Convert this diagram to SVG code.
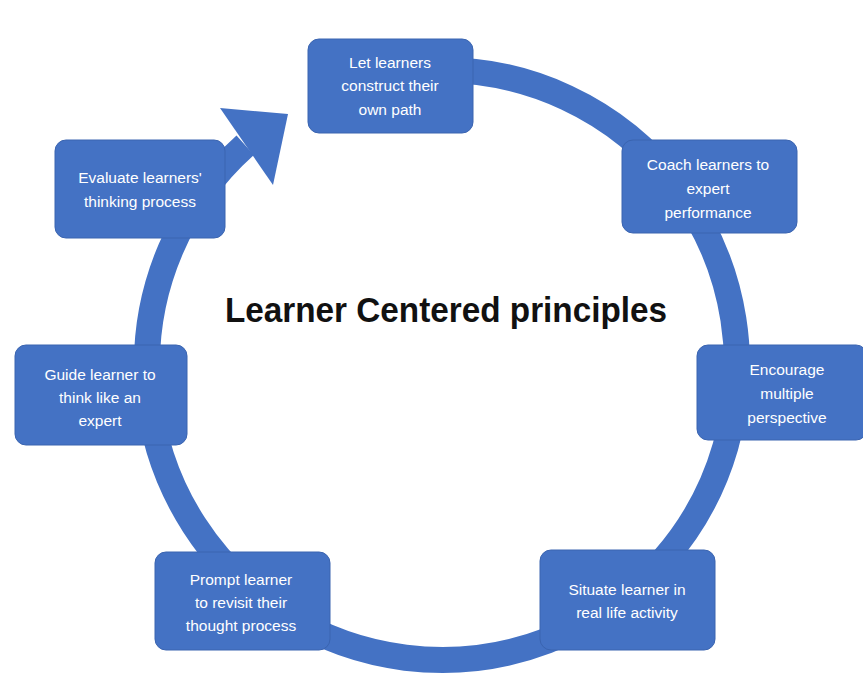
<svg xmlns="http://www.w3.org/2000/svg" width="863" height="674" viewBox="0 0 863 674">
  <style>
    .ring { fill: none; stroke: #4472C4; stroke-width: 26; }
    .head { fill: #4472C4; }
    .box { fill: #4472C4; stroke: #3A64B0; stroke-width: 1; }
    .lbl { fill: #FFFFFF; font-family: "Liberation Sans", Arial, sans-serif; font-size: 15.5px; text-anchor: middle; }
    .title { fill: #111111; font-family: "Liberation Sans", Arial, sans-serif; font-size: 35px; font-weight: bold; }
  </style>
  <rect width="863" height="674" fill="#FFFFFF"/>

  <!-- circular cycle arrow -->
  <g id="connectors">
    <path class="ring" d="M 442 70 A 295 295 0 1 1 245.2 145.2"/>
    <polygon class="head" points="220,108 288,114 273,185"/>
  </g>

  <text class="title" x="225" y="322" textLength="442" lengthAdjust="spacingAndGlyphs">Learner Centered principles</text>

  <g id="node-construct">
    <rect class="box" x="308" y="39" width="165" height="94" rx="11"/>
    <text class="lbl" x="390" y="68">Let learners</text>
    <text class="lbl" x="390" y="91">construct their</text>
    <text class="lbl" x="390" y="115">own path</text>
  </g>

  <g id="node-coach">
    <rect class="box" x="622" y="140" width="175" height="93" rx="11"/>
    <text class="lbl" x="708" y="170">Coach learners to</text>
    <text class="lbl" x="708" y="194">expert</text>
    <text class="lbl" x="708" y="218">performance</text>
  </g>

  <g id="node-encourage">
    <rect class="box" x="697" y="345" width="170" height="95" rx="11"/>
    <text class="lbl" x="787" y="375">Encourage</text>
    <text class="lbl" x="787" y="399">multiple</text>
    <text class="lbl" x="787" y="423">perspective</text>
  </g>

  <g id="node-situate">
    <rect class="box" x="540" y="550" width="175" height="100" rx="11"/>
    <text class="lbl" x="627" y="595">Situate learner in</text>
    <text class="lbl" x="627" y="618">real life activity</text>
  </g>

  <g id="node-prompt">
    <rect class="box" x="155" y="552" width="175" height="98" rx="11"/>
    <text class="lbl" x="241" y="585">Prompt learner</text>
    <text class="lbl" x="241" y="608">to revisit their</text>
    <text class="lbl" x="241" y="631">thought process</text>
  </g>

  <g id="node-guide">
    <rect class="box" x="15" y="345" width="172" height="100" rx="11"/>
    <text class="lbl" x="100" y="380">Guide learner to</text>
    <text class="lbl" x="100" y="403">think like an</text>
    <text class="lbl" x="100" y="426">expert</text>
  </g>

  <g id="node-evaluate">
    <rect class="box" x="55" y="140" width="170" height="98" rx="11"/>
    <text class="lbl" x="140" y="183">Evaluate learners'</text>
    <text class="lbl" x="140" y="207">thinking  process</text>
  </g>
</svg>
